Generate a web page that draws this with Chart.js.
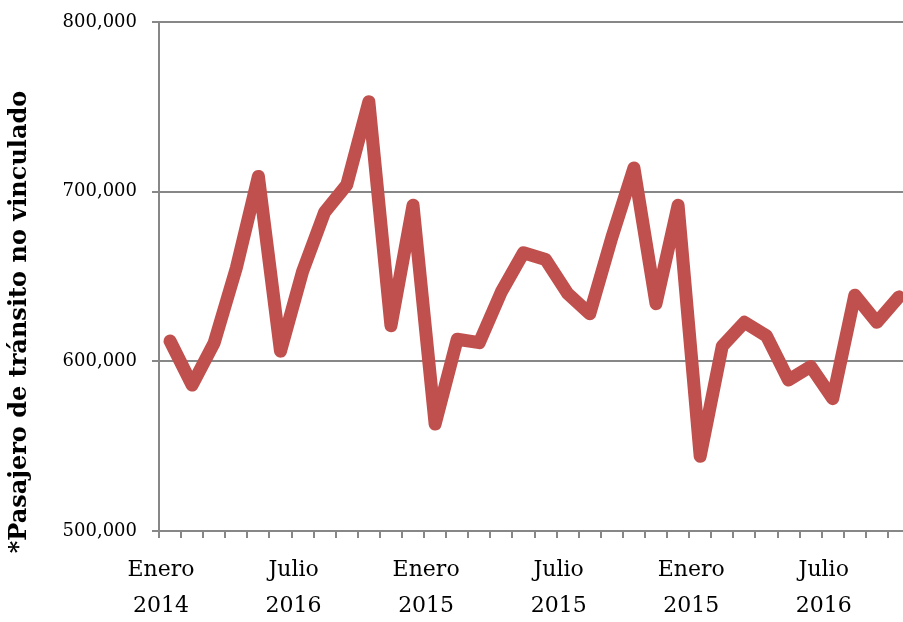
<!DOCTYPE html>
<html lang="es">
<head>
<meta charset="utf-8">
<title>Pasajero de tránsito no vinculado</title>
<script src="https://cdn.jsdelivr.net/npm/chart.js@4.4.1/dist/chart.umd.min.js"></script>
<style>
  html, body { margin: 0; padding: 0; background: #ffffff; overflow: hidden; }
  #wrap { width: 913px; height: 622px; }
</style>
</head>
<body>
<div id="wrap"><canvas id="chart" width="913" height="622"></canvas></div>
<script>
// Monthly ridership, one value per month
const passengers = [
  612000, 586000, 611000, 655000, 709000, 606000, 653000, 688000, 704000, 753000,
  621000, 692000, 563000, 613000, 611000, 641000, 664000, 660000, 640000, 628000,
  673000, 714000, 634000, 692000, 544000, 609000, 623000, 615000, 589000, 597000,
  578000, 639000, 623000, 638000
];

// Axis labels shown every six months
const periodMonths = ['Enero', 'Julio', 'Enero', 'Julio', 'Enero', 'Julio'];
const periodYears = ['2014', '2016', '2015', '2015', '2015', '2016'];
const labelStep = 6;

const yTicks = [500000, 600000, 700000, 800000];
const yTitle = '*Pasajero de tránsito no vinculado';

const categories = passengers.map((_, i) =>
  i % labelStep === 0 ? [periodMonths[i / labelStep], periodYears[i / labelStep]] : ''
);

const FONT = "'DejaVu Serif', serif";
const AXIS_GREY = '#878787';

// Rotated axis title drawn beside the value axis
const sideTitle = {
  id: 'sideTitle',
  afterDraw(chart) {
    const ctx = chart.ctx;
    ctx.save();
    ctx.translate(20, 322);
    ctx.rotate(-Math.PI / 2);
    ctx.font = "bold 24px " + FONT;
    ctx.fillStyle = '#000000';
    ctx.textAlign = 'center';
    ctx.textBaseline = 'middle';
    ctx.fillText(yTitle, 0, 0);
    ctx.restore();
  }
};

new Chart(document.getElementById('chart'), {
  type: 'line',
  data: {
    labels: categories,
    datasets: [{
      data: passengers,
      borderColor: '#C0504D',
      backgroundColor: '#C0504D',
      borderWidth: 13,
      borderJoinStyle: 'round',
      borderCapStyle: 'round',
      pointRadius: 0,
      pointHoverRadius: 0,
      tension: 0,
      fill: false
    }]
  },
  options: {
    responsive: false,
    animation: false,
    devicePixelRatio: 1,
    layout: { padding: { top: 22, left: 0, right: 0, bottom: 0 } },
    plugins: {
      legend: { display: false },
      tooltip: { enabled: false },
      title: { display: false }
    },
    scales: {
      x: {
        type: 'category',
        offset: true,
        afterFit(scale) { scale.height = 91; },
        border: { display: true, color: AXIS_GREY, width: 2 },
        grid: {
          display: true,
          offset: true,
          drawOnChartArea: false,
          drawTicks: true,
          tickLength: 7,
          color: AXIS_GREY,
          lineWidth: 2
        },
        ticks: {
          autoSkip: false,
          maxRotation: 0,
          minRotation: 0,
          padding: 14,
          labelOffset: -9,
          color: '#000000',
          font: { family: FONT, size: 22, lineHeight: 1.65 }
        }
      },
      y: {
        min: yTicks[0],
        max: yTicks[yTicks.length - 1],
        afterFit(scale) {
          scale.width = 159;
          scale.paddingTop = 0;
          scale.paddingBottom = 0;
        },
        afterBuildTicks(scale) { scale.ticks = yTicks.map(v => ({ value: v })); },
        border: { display: true, color: AXIS_GREY, width: 2 },
        grid: {
          color: AXIS_GREY,
          lineWidth: 2,
          drawTicks: true,
          tickLength: 7
        },
        ticks: {
          padding: 15,
          color: '#000000',
          font: { family: FONT, size: 18 },
          callback: v => v.toLocaleString('en-US')
        }
      }
    }
  },
  plugins: [sideTitle]
});
</script>
</body>
</html>
